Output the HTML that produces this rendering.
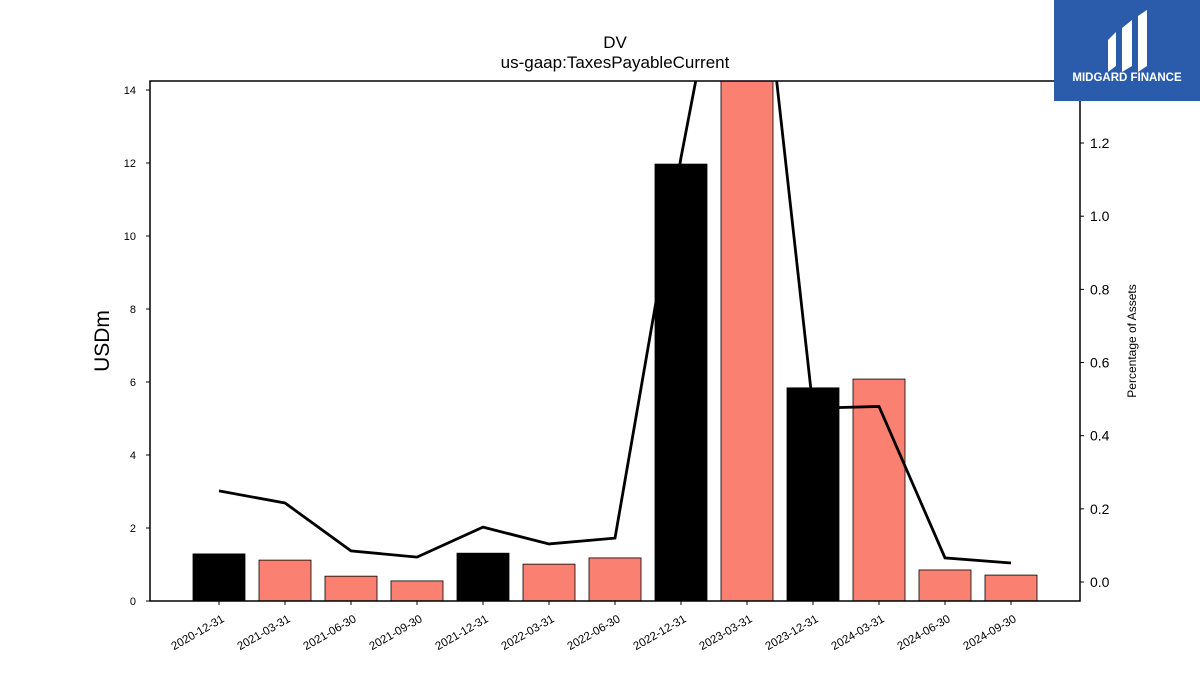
<!DOCTYPE html>
<html><head><meta charset="utf-8"><style>
body{margin:0;background:#fff;}
svg{display:block;font-family:"Liberation Sans","DejaVu Sans",sans-serif;}
</style></head><body>
<svg id="chart" width="1200" height="675" viewBox="0 0 1200 675">
<text x="615" y="48" text-anchor="middle" font-size="17">DV</text>
<text x="615" y="68" text-anchor="middle" font-size="17">us-gaap:TaxesPayableCurrent</text>
<g id="plot"></g>
<rect x="150" y="81" width="930" height="520" fill="none" stroke="#000" stroke-width="1.5"/>
<text transform="translate(109,341) rotate(-90)" text-anchor="middle" font-size="21">USDm</text>
<text transform="translate(1136,341) rotate(-90)" text-anchor="middle" font-size="12">Percentage of Assets</text>
<g>
<rect x="1054" y="0" width="146" height="101" fill="#2b5cab"/>
<path d="M1108 40 L1116 32 L1116 66 L1108 72 Z M1122 28 L1132 20 L1132 66 L1122 72 Z M1138 16 L1147 10 L1147 66 L1138 72 Z" fill="#fff"/>
<text x="1127" y="81" text-anchor="middle" font-size="11.5" font-weight="bold" fill="#fff">MIDGARD FINANCE</text>
</g>
</svg>
<script>
const categories=["2020-12-31","2021-03-31","2021-06-30","2021-09-30","2021-12-31","2022-03-31","2022-06-30","2022-12-31","2023-03-31","2023-12-31","2024-03-31","2024-06-30","2024-09-30"];
const barValues=[1.29,1.12,0.68,0.55,1.31,1.01,1.18,11.97,15.5,5.84,6.08,0.85,0.71];
const pctValues=[0.249,0.216,0.085,0.068,0.15,0.104,0.12,1.16,2.1,0.475,0.48,0.066,0.052];
const yTicks=[0,2,4,6,8,10,12,14];
const y2Ticks=[0.0,0.2,0.4,0.6,0.8,1.0,1.2];
const NS="http://www.w3.org/2000/svg";
const plot=document.getElementById('plot');
const L=150,R=1080,T=81,B=601;
function xPos(i){return 219+i*66;}
function yL(v){return 601-v*36.5;}
function yR(v){return 582-v*365.8;}
function mk(tag,attrs,parent){const e=document.createElementNS(NS,tag);for(const k in attrs)e.setAttribute(k,attrs[k]);(parent||plot).appendChild(e);return e;}
const clip=mk('clipPath',{id:'clip'});mk('rect',{x:L,y:T,width:R-L,height:B-T},clip);
const g=mk('g',{'clip-path':'url(#clip)'});
barValues.forEach((v,i)=>{
 const top=Math.max(yL(v),T-5);
 const r=mk('rect',{x:xPos(i)-26,y:top,width:52,height:B-top,fill:(i===0||i===4||i===7||i===9)?'#000':'#fa8072',stroke:'#000','stroke-width':0.8},g);
 
 
});
const pts=pctValues.map((v,i)=>xPos(i)+','+yR(v)).join(' ');
const pl=mk('polyline',{points:pts,fill:'none',stroke:'#000','stroke-width':2.8,'stroke-linejoin':'miter'},g);


yTicks.forEach(v=>{
 const y=yL(v);
 mk('line',{x1:L-4,x2:L,y1:y,y2:y,stroke:'#000'});
 const t=mk('text',{x:L-14,y:y+4,'text-anchor':'end','font-size':11});t.textContent=v;
 
 
});
y2Ticks.forEach(v=>{
 const y=yR(v);
 mk('line',{x1:R,x2:R+4,y1:y,y2:y,stroke:'#000'});
 const t=mk('text',{x:R+10,y:y+5,'font-size':14});t.textContent=v.toFixed(1);
 
 
});
categories.forEach((c,i)=>{
 const x=xPos(i);
 mk('line',{x1:x,x2:x,y1:B,y2:B+4,stroke:'#000'});
 const t=mk('text',{transform:`translate(${x+6},${B+20}) rotate(-30)`,'text-anchor':'end','font-size':11.5});t.textContent=c;
 
 
});
</script>
</body></html>
